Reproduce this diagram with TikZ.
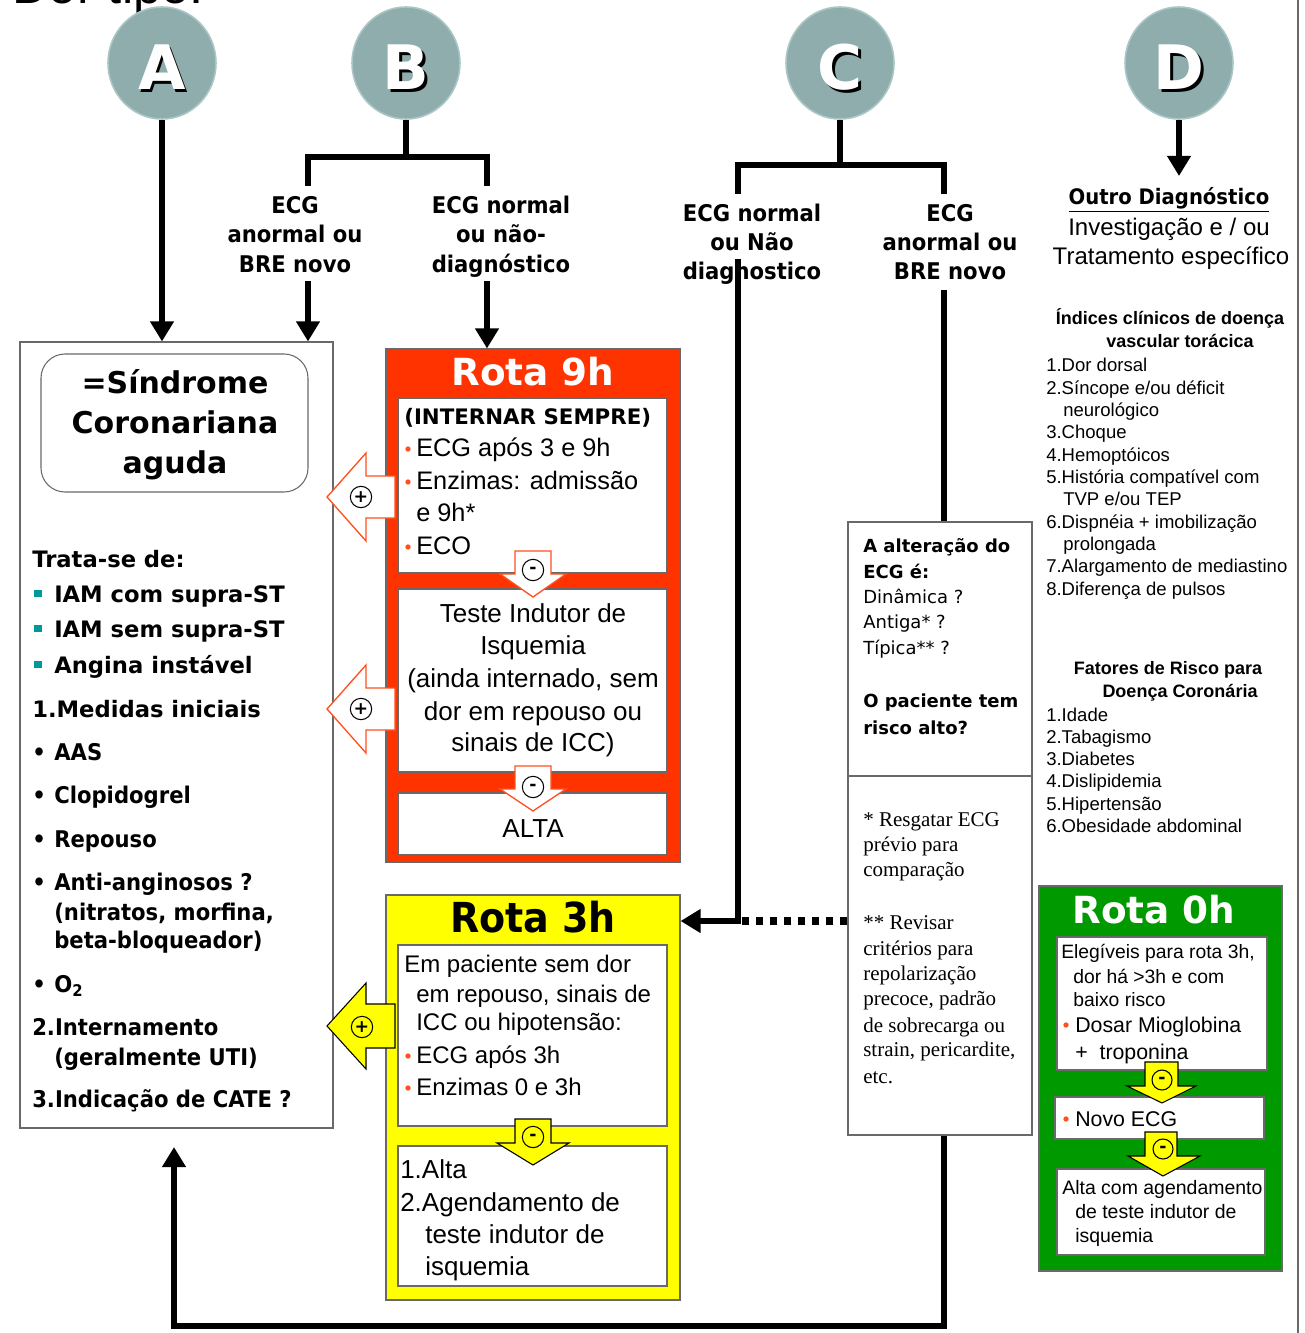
\documentclass[tikz,border=0pt]{standalone}
\usepackage{fontspec}
\setmainfont{Liberation Sans}
\newfontfamily\verd{DejaVu Sans}
\newfontfamily\taho[FakeStretch=0.92]{DejaVu Sans}
\newfontfamily\tms{Liberation Serif}
\usetikzlibrary{arrows.meta,shapes.geometric,fit}
\newcommand\fz[1]{\fontsize{#1}{#1}\selectfont}

\definecolor{circfill}{RGB}{143,173,173}
\definecolor{circrim}{RGB}{170,198,198}
\definecolor{rotared}{RGB}{255,51,0}
\definecolor{rotayel}{RGB}{255,255,0}
\definecolor{rotagrn}{RGB}{0,153,0}
\definecolor{tealsq}{RGB}{0,153,153}
\definecolor{dotor}{RGB}{255,80,30}
\definecolor{boxgray}{RGB}{105,105,105}

\tikzset{
  thk/.style={line width=4.6pt},
  arr/.style={thk,-{Triangle[length=15pt,width=17pt]}},
  dotline/.style={line width=5.5pt,dash pattern=on 5.5pt off 5pt},
  letter/.style={shape=ellipse,fill=circfill,draw=circrim,line width=1.2pt,minimum width=81pt,minimum height=84pt,inner sep=0pt},
  frame/.style={draw=boxgray,line width=0.8pt,inner sep=0pt},
  inbox/.style={frame,fill=white},
  txt/.style={anchor=base west,inner sep=0pt},
  ctxt/.style={anchor=base,inner sep=0pt},
  ecglab/.style={ctxt,font=\taho\bfseries\fz{17.25}},
  redarr/.style={fill=white,draw=dotor,line width=1pt},
  yelarr/.style={fill=rotayel,draw=black,line width=0.8pt},
  sign/.style={circle,draw=black,line width=0.8pt,minimum size=16pt,inner sep=0pt,font=\verd\bfseries\fz{13}},
}

\begin{document}
\begin{tikzpicture}[x=0.75pt,y=-0.75pt,line join=miter]
\clip (0,0) rectangle (1304,1333);

% title cut by the page
\node[txt,font=\fz{38}] (title) at (12,4) {Dor tipo:};
\draw[boxgray,line width=0.9pt] (1298,0) -- (1298,1333);

% the four circles
\foreach \n/\x in {A/162,B/406,C/840,D/1179}{
  \node[letter] (c\n) at (\x,63) {};
  \node[ctxt,font=\verd\bfseries\fz{46}] (s\n) at (\x+2.5,92.5) {\n};
  \node[ctxt,font=\verd\bfseries\fz{46},text=white] (l\n) at (\x,90) {\n};
}

% boxes
\node[frame,fit={(20,342) (333,1128)}] (lbox) {};
\node[frame,rounded corners=18pt,fit={(41,354) (308,492)}] (scabox) {};
\node[frame,fill=rotared,fit={(386,349) (680,862)}] (r9) {};
\node[inbox,fit={(398,398) (667,573)}] (r9a) {};
\node[inbox,fit={(398,589) (667,772)}] (r9b) {};
\node[inbox,fit={(398,793) (667,855)}] (r9c) {};
\node[frame,fill=rotayel,fit={(386,895) (680,1300)}] (r3) {};
\node[inbox,fit={(398,945) (667,1126)}] (r3a) {};
\node[inbox,fit={(398,1146) (667,1286)}] (r3b) {};
\node[frame,fit={(848,522) (1032,1135)}] (cbox) {};
\coordinate (cdiv) at (848,776);
\draw[frame] (cdiv) -- (cdiv -| cbox.east);
\node[frame,fill=rotagrn,fit={(1039,886) (1282,1271)}] (r0) {};
\node[inbox,fit={(1057,937) (1267,1070)}] (r0a) {};
\node[inbox,fit={(1055,1097) (1264,1139)}] (r0b) {};
\node[inbox,fit={(1057,1169) (1265,1255)}] (r0c) {};

% ECG labels
\foreach \t [count=\i] in {ECG,anormal ou,BRE novo}
  \node[ecglab] (bla\i) at (295,{184+29.5*\i}) {\t};
\foreach \t [count=\i] in {ECG normal,ou não-,diagnóstico}
  \node[ecglab] (blb\i) at (501,{184+29.5*\i}) {\t};
\foreach \t [count=\i] in {ECG normal,ou Não,diagnostico}
  \node[ecglab] (cla\i) at (752,{193+29*\i}) {\t};
\foreach \t [count=\i] in {ECG,anormal ou,BRE novo}
  \node[ecglab] (clb\i) at (950,{193+29*\i}) {\t};

% connectors
\draw[arr] (cA) -- (cA |- lbox.north);
\coordinate (bJ) at (406,157);
\coordinate (bL) at (308,186);
\coordinate (bR) at (487,186);
\draw[thk] (cB) -- (bJ);
\draw[thk] (bL) |- (bJ) -| (bR);
\coordinate (bL2) at (308,281);
\coordinate (bR2) at (487,281);
\draw[arr] (bL2) -- (bL2 |- lbox.north);
\draw[arr] (bR2) -- (bR2 |- r9.north);

\coordinate (cJ) at (840,165);
\coordinate (cL) at (738,194);
\coordinate (cR) at (944,194);
\draw[thk] (cC) -- (cJ);
\draw[thk] (cL) |- (cJ) -| (cR);
\coordinate (cL2) at (738,259);
\coordinate (r3in) at (738,921);
\draw[arr] (cL2) -- (r3in) -- (r3in -| r3.east);
\draw[dotline] (cbox.west |- r3in) -- (r3in);
\coordinate (cR2) at (944,290);
\draw[thk] (cR2) -- (cR2 |- cbox.north);
\coordinate (back) at (174,1326);
\coordinate (backtip) at (174,1147);
\draw[arr] (cR2 |- cbox.south) -- (cR2 |- back) -- (back) -- (backtip);
\coordinate (dT) at (1179,176);
\draw[arr] (cD) -- (dT);

% D column
\node[ctxt,font=\taho\bfseries\fz{16}] (outro) at (1169,205) {\underline{Outro Diagnóstico}};
\node[ctxt,font=\fz{18}] (inv1) at (1169,236) {Investigação e / ou};
\node[ctxt,font=\fz{18}] (inv2) at (1171,265) {Tratamento específico};

\node[ctxt,font=\bfseries\fz{13.5}] (idxh1) at (1170,325) {Índices clínicos de doença};
\node[ctxt,font=\bfseries\fz{13.5}] (idxh2) at (1180,348) {vascular torácica};
\foreach \x/\y/\t [count=\i] in {1046/372/1.Dor dorsal,1046/394/{2.Síncope e/ou déficit},
    1063/416/neurológico,1046/438/3.Choque,1046/461/4.Hemoptóicos,
    1046/483/5.História compatível com,1063/505/{TVP e/ou TEP},
    1046/528/6.Dispnéia + imobilização,1063/550/prolongada,
    1046/572/7.Alargamento de mediastino,1046/595/8.Diferença de pulsos}
  \node[txt,font=\fz{13.9}] (idx\i) at (\x,\y) {\t};
\node[ctxt,font=\bfseries\fz{13.5}] (riskh1) at (1168,674) {Fatores de Risco para};
\node[ctxt,font=\bfseries\fz{13.5}] (riskh2) at (1180,697) {Doença Coronária};
\foreach \y/\t [count=\i] in {721/1.Idade,743/2.Tabagismo,765/3.Diabetes,
    787/4.Dislipidemia,810/5.Hipertensão,832/6.Obesidade abdominal}
  \node[txt,font=\fz{13.9}] (risk\i) at (1046,\y) {\t};

% left box
\foreach \t [count=\i] in {=Síndrome,Coronariana,aguda}
  \node[ctxt,font=\verd\bfseries\fz{22.5}] (sca\i) at (175,{353+40*\i}) {\t};
\node[txt,font=\verd\bfseries\fz{17}] (trata) at (32,567) {Trata-se de:};
\foreach \y/\t [count=\i] in {602/IAM com supra-ST,637/IAM sem supra-ST,673/Angina instável}{
  \fill[tealsq] (34,\y-12) rectangle (42,\y-5);
  \node[txt,font=\verd\bfseries\fz{17}] (iam\i) at (54,\y) {\t};
}
\node[txt,font=\verd\bfseries\fz{17}] (med) at (32,717) {1.Medidas iniciais};
\foreach \y in {760,803,847,890,992}
  \node[txt,font=\taho\bfseries\fz{17.25}] (bul\y) at (32,\y) {•};
\foreach \x/\y/\t [count=\i] in {54/760/AAS,54/803/Clopidogrel,54/847/Repouso,
    54/890/Anti-anginosos ?,54/920/{(nitratos, morfina,},54/948/{beta-bloqueador)},
    54/992/O\textsubscript{2},32/1035/2.Internamento,54/1065/{(geralmente UTI)},
    32/1107/3.Indicação de CATE ?}
  \node[txt,font=\taho\bfseries\fz{17.25}] (it\i) at (\x,\y) {\t};

% Rota 9h
\node[ctxt,font=\verd\bfseries\fz{28},text=white] (r9t) at (533,385) {Rota 9h};
\node[txt,font=\verd\bfseries\fz{16}] (intern) at (404,424) {(INTERNAR SEMPRE)};
\foreach \y/\t [count=\i] in {456/ECG após 3 e 9h,489/Enzimas: admissão,521/e 9h*,554/ECO}
  \node[txt,font=\fz{19}] (r9l\i) at (416,\y) {\t};
\foreach \y in {456,489,554}
  \fill[dotor] (408,\y-7) circle (2pt);
\foreach \y/\t [count=\i] in {622/Teste Indutor de,654/Isquemia,687/{(ainda internado, sem},
    720/dor em repouso ou,751/sinais de ICC)}
  \node[ctxt,font=\fz{19.5}] (r9m\i) at (533,\y) {\t};
\node[ctxt,font=\fz{19.5}] (alta) at (533,837) {ALTA};
\filldraw[redarr] (515,551) -- (515,574) -- (500,574) -- (533,597) -- (566,574) -- (551,574) -- (551,551) -- cycle;
\node[sign] (m1) at (533,570) {-};
\filldraw[redarr] (515,766) -- (515,789) -- (500,789) -- (533,811) -- (566,789) -- (551,789) -- (551,766) -- cycle;
\node[sign] (m2) at (533,787) {-};
\filldraw[redarr] (395,476) -- (366,476) -- (366,453) -- (327,497) -- (366,541) -- (366,518) -- (395,518) -- cycle;
\node[sign] (p1) at (361,497) {+};
\filldraw[redarr] (395,688) -- (366,688) -- (366,665) -- (327,709) -- (366,753) -- (366,730) -- (395,730) -- cycle;
\node[sign] (p2) at (361,709) {+};

% Rota 3h
\node[ctxt,font=\taho\bfseries\fz{31}] (r3t) at (533,932) {Rota 3h};
\node[txt,font=\fz{18}] (r3l1) at (404,972) {Em paciente sem dor};
\foreach \y/\t [count=\i from 2] in {1002/{em repouso, sinais de},1030/ICC ou hipotensão:,
    1063/ECG após 3h,1095/Enzimas 0 e 3h}
  \node[txt,font=\fz{18}] (r3l\i) at (416,\y) {\t};
\foreach \y in {1063,1095}
  \fill[dotor] (408,\y-7) circle (2pt);
\node[txt,font=\fz{19.5}] (r3m1) at (400,1178) {1.Alta};
\node[txt,font=\fz{19.5}] (r3m2) at (400,1211) {2.Agendamento de};
\node[txt,font=\fz{19.5}] (r3m3) at (425,1243) {teste indutor de};
\node[txt,font=\fz{19.5}] (r3m4) at (425,1275) {isquemia};
\filldraw[yelarr] (515,1119) -- (515,1143) -- (497,1143) -- (533,1165) -- (569,1143) -- (551,1143) -- (551,1119) -- cycle;
\node[sign] (m3) at (533,1137) {-};
\filldraw[yelarr] (395,1004) -- (366,1004) -- (366,983) -- (327,1026) -- (366,1069) -- (366,1048) -- (395,1048) -- cycle;
\node[sign] (p3) at (362,1027) {+};

% C box
\foreach \y/\t [count=\i] in {552/A alteração do,578/ECG é:,707/O paciente tem,734/risco alto?}
  \node[txt,font=\verd\bfseries\fz{13.5}] (cq\i) at (863,\y) {\t};
\foreach \y/\t [count=\i] in {603/Dinâmica ?,628/Antiga* ?,654/Típica** ?}
  \node[txt,font=\verd\fz{13.5}] (ca\i) at (863,\y) {\t};
\foreach \y/\t [count=\i] in {826/* Resgatar ECG,851/prévio para,876/comparação,
    929/** Revisar,955/critérios para,980/repolarização,1005/{precoce, padrão},
    1032/de sobrecarga ou,1056/{strain, pericardite,},1083/etc.}
  \node[txt,font=\tms\fz{15.75}] (cn\i) at (863,\y) {\t};

% Rota 0h
\node[ctxt,font=\verd\bfseries\fz{28},text=white] (r0t) at (1154,923) {Rota 0h};
\node[txt,font=\fz{14.5}] (r0l1) at (1061,958) {Elegíveis para rota 3h,};
\node[txt,font=\fz{14.5}] (r0l2) at (1073,983) {dor há >3h e com};
\node[txt,font=\fz{14.5}] (r0l3) at (1073,1006) {baixo risco};
\node[txt,font=\fz{16}] (r0l4) at (1075,1032) {Dosar Mioglobina};
\node[txt,font=\fz{16}] (r0l5) at (1075,1059) {+ \ troponina};
\fill[dotor] (1066,1025) circle (2pt);
\node[txt,font=\fz{16}] (novo) at (1075,1126) {Novo ECG};
\fill[dotor] (1066,1119) circle (2pt);
\node[txt,font=\fz{14.6}] (r0c1) at (1062,1194) {Alta com agendamento};
\node[txt,font=\fz{14.6}] (r0c2) at (1075,1218) {de teste indutor de};
\node[txt,font=\fz{14.6}] (r0c3) at (1075,1242) {isquemia};
\filldraw[yelarr] (1145,1062) -- (1145,1086) -- (1127,1086) -- (1162,1103) -- (1196,1086) -- (1178,1086) -- (1178,1062) -- cycle;
\node[sign,minimum size=15pt] (m4) at (1162,1080) {-};
\filldraw[yelarr] (1145,1132) -- (1145,1156) -- (1128,1156) -- (1163,1176) -- (1200,1156) -- (1177,1156) -- (1177,1132) -- cycle;
\node[sign,minimum size=15pt] (m5) at (1163,1149) {-};
\end{tikzpicture}
\end{document}
